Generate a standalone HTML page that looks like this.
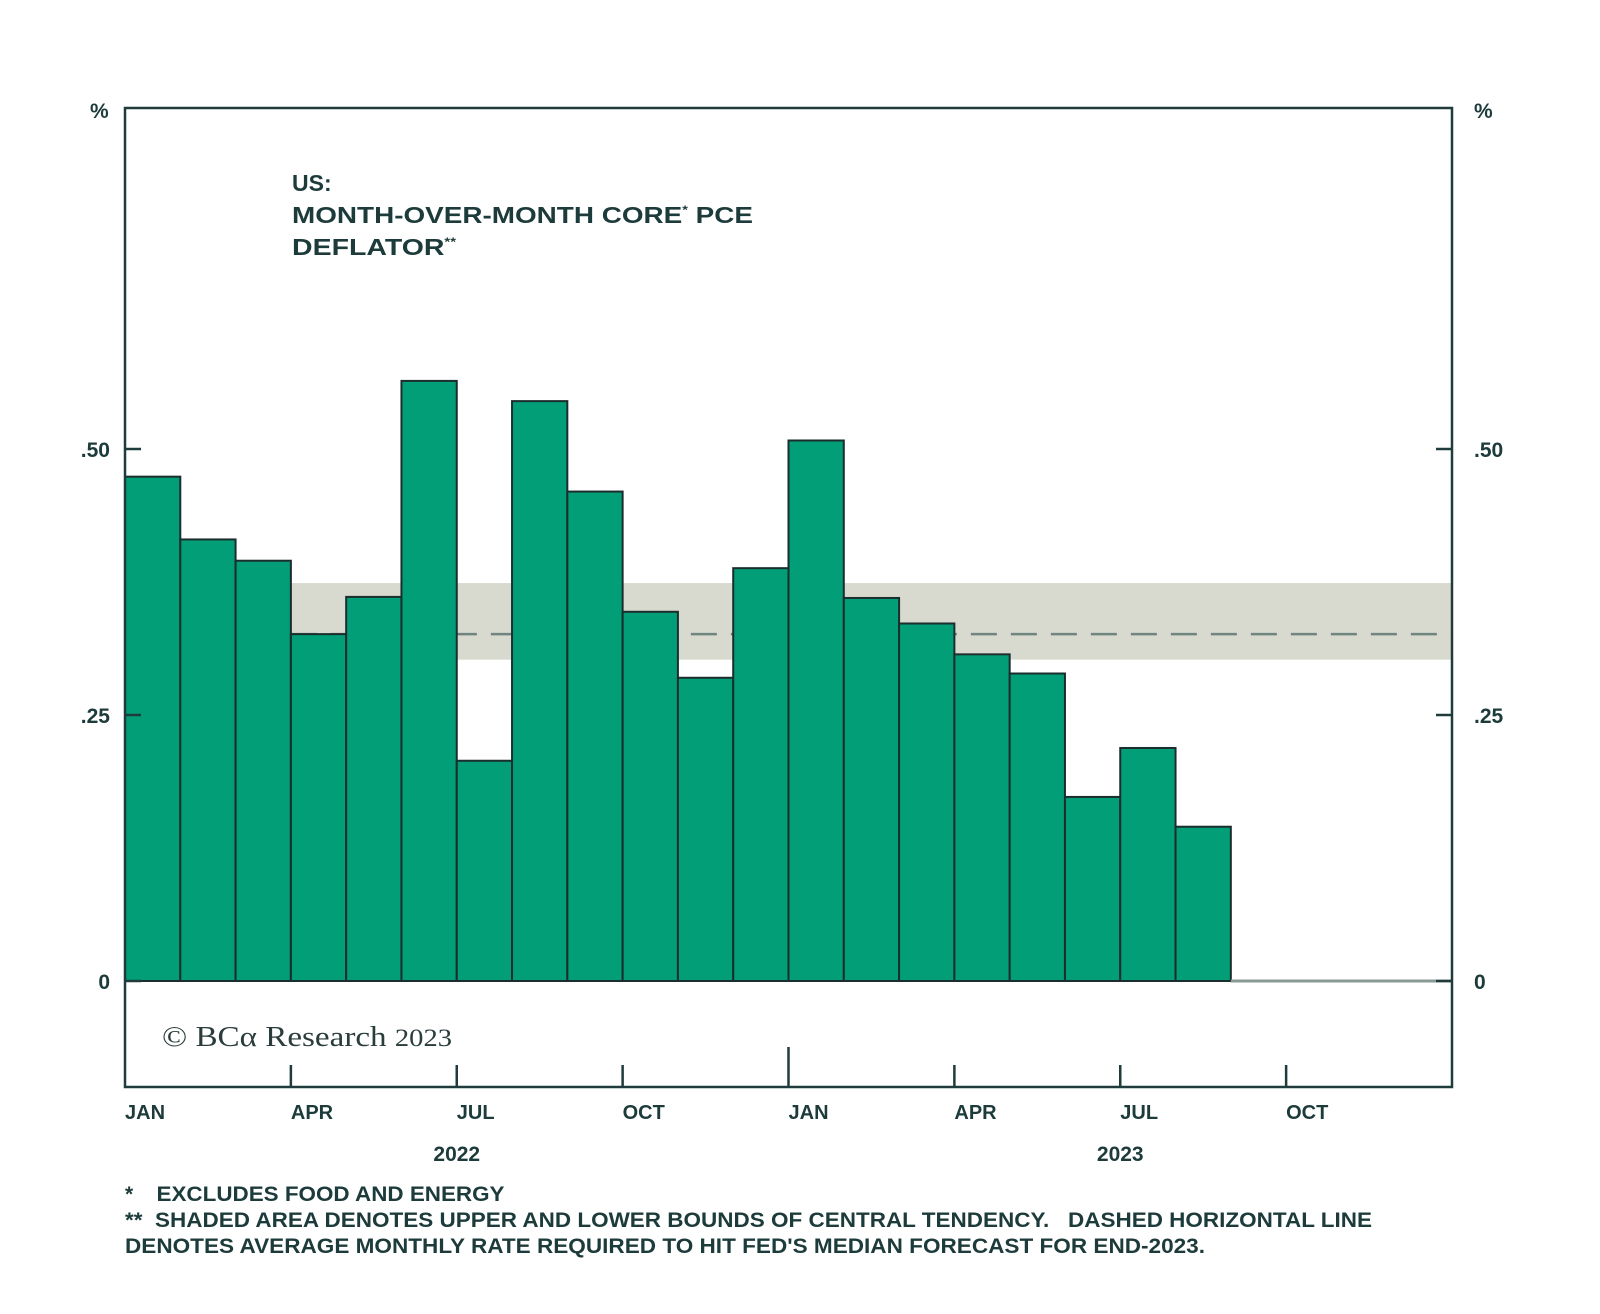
<!DOCTYPE html>
<html><head><meta charset="utf-8"><style>
body{margin:0;background:#fff;}
svg{display:block;font-family:"Liberation Sans",sans-serif;}
</style></head><body>
<svg id="chart" width="1600" height="1314" viewBox="0 0 1600 1314">
<g id="band-layer"></g>
<g id="bars"></g>
<g id="axes"></g>
<text x="292" y="191" font-size="23" font-weight="bold" fill="#1d3b3b">US:</text>
<text x="292" y="223" font-size="23" font-weight="bold" fill="#1d3b3b" textLength="461" lengthAdjust="spacingAndGlyphs">MONTH-OVER-MONTH CORE<tspan font-size="12" dy="-9">*</tspan><tspan dy="9"> PCE</tspan></text>
<text x="292" y="255" font-size="23" font-weight="bold" fill="#1d3b3b" textLength="164" lengthAdjust="spacingAndGlyphs">DEFLATOR<tspan font-size="12" dy="-9">**</tspan></text>
<text x="162" y="1046" font-size="29" font-family="Liberation Serif, serif" fill="#2a3c3c" textLength="290" lengthAdjust="spacingAndGlyphs">© BCα Research <tspan font-size="25">2023</tspan></text>
<text x="90" y="118" font-size="21" font-weight="bold" fill="#1d3b3b">%</text>
<text x="1474" y="118" font-size="21" font-weight="bold" fill="#1d3b3b">%</text>
<g font-size="21" font-weight="bold" fill="#1d3b3b">
<text x="125" y="1201">*&#160;&#160;&#160;&#160;<tspan textLength="348" lengthAdjust="spacingAndGlyphs">EXCLUDES FOOD AND ENERGY</tspan></text>
<text x="125" y="1227" textLength="1247" lengthAdjust="spacingAndGlyphs">**&#160;&#160;SHADED AREA DENOTES UPPER AND LOWER BOUNDS OF CENTRAL TENDENCY.&#160;&#160;&#160;DASHED HORIZONTAL LINE</text>
<text x="125" y="1253" textLength="1080" lengthAdjust="spacingAndGlyphs">DENOTES AVERAGE MONTHLY RATE REQUIRED TO HIT FED'S MEDIAN FORECAST FOR END-2023.</text>
</g>
</svg>
<script>
const values=[0.474,0.415,0.395,0.326,0.361,0.564,0.207,0.545,0.460,0.347,0.285,0.388,0.508,0.360,0.336,0.307,0.289,0.173,0.219,0.145];
const yTicks=[0,0.25,0.5];
const yTickLabels=["0",".25",".50"];
const xTickMonths=[3,6,9,12,15,18,21];
const xLabelMonths=[0,3,6,9,12,15,18,21];
const xLabels=["JAN","APR","JUL","OCT","JAN","APR","JUL","OCT"];
const years=["2022","2023"];
const yearCenters=[6,18];
const band=[0.302,0.374];
const bandStart=3;
const target=0.326;

const L=125,R=1452,T=108,B=1087,Z=981,PX=1064,MW=(R-L)/24;
const y=v=>Z-v*PX, x=m=>L+m*MW;
const NS="http://www.w3.org/2000/svg";
function mk(p,t,a){const e=document.createElementNS(NS,t);for(const k in a)e.setAttribute(k,a[k]);p.appendChild(e);return e;}
const bl=document.getElementById('band-layer'),bg=document.getElementById('bars'),ax=document.getElementById('axes');
let b=mk(bl,'rect',{x:x(bandStart),y:y(band[1]),width:R-x(bandStart),height:y(band[0])-y(band[1]),fill:'#d8d9cf'});


let d=mk(bl,'line',{x1:x(bandStart),x2:R,y1:y(target),y2:y(target),stroke:'#6f8580','stroke-width':2.5,'stroke-dasharray':'26 14'});


values.forEach((v,i)=>{
 const r=mk(bg,'rect',{x:x(i),y:y(v),width:MW,height:Z-y(v),fill:'#029e77',stroke:'#1b2d2d','stroke-width':2});
 
 
});
let zl=mk(ax,'line',{x1:x(values.length),x2:R,y1:Z,y2:Z,stroke:'#8a9896','stroke-width':3});


let fr=mk(ax,'rect',{x:L,y:T,width:R-L,height:B-T,fill:'none',stroke:'#1f3b3b','stroke-width':2.5});


yTicks.forEach((v,i)=>{
 mk(ax,'line',{x1:L,x2:L+16,y1:y(v),y2:y(v),stroke:'#1f3b3b','stroke-width':2.5});
 mk(ax,'line',{x1:R-16,x2:R,y1:y(v),y2:y(v),stroke:'#1f3b3b','stroke-width':2.5});
 const t1=mk(ax,'text',{x:110,y:y(v)+8,'font-size':21,'font-weight':'bold',fill:'#1d3b3b','text-anchor':'end'});t1.textContent=yTickLabels[i];
 
 
 const t2=mk(ax,'text',{x:1474,y:y(v)+8,'font-size':21,'font-weight':'bold',fill:'#1d3b3b'});t2.textContent=yTickLabels[i];
 
 
});
xTickMonths.forEach(m=>{
 mk(ax,'line',{x1:x(m),x2:x(m),y1:B,y2:B-(m===12?40:22),stroke:'#1f3b3b','stroke-width':2.5});
});
xLabelMonths.forEach((m,i)=>{
 const t=mk(ax,'text',{x:x(m),y:1119,'font-size':20,'font-weight':'bold',fill:'#1d3b3b'});t.textContent=xLabels[i];
 
 
});
years.forEach((yr,i)=>{
 const t=mk(ax,'text',{x:x(yearCenters[i]),y:1161,'font-size':21,'font-weight':'bold',fill:'#1d3b3b','text-anchor':'middle'});t.textContent=yr;
 
 
});
</script>
</body></html>
